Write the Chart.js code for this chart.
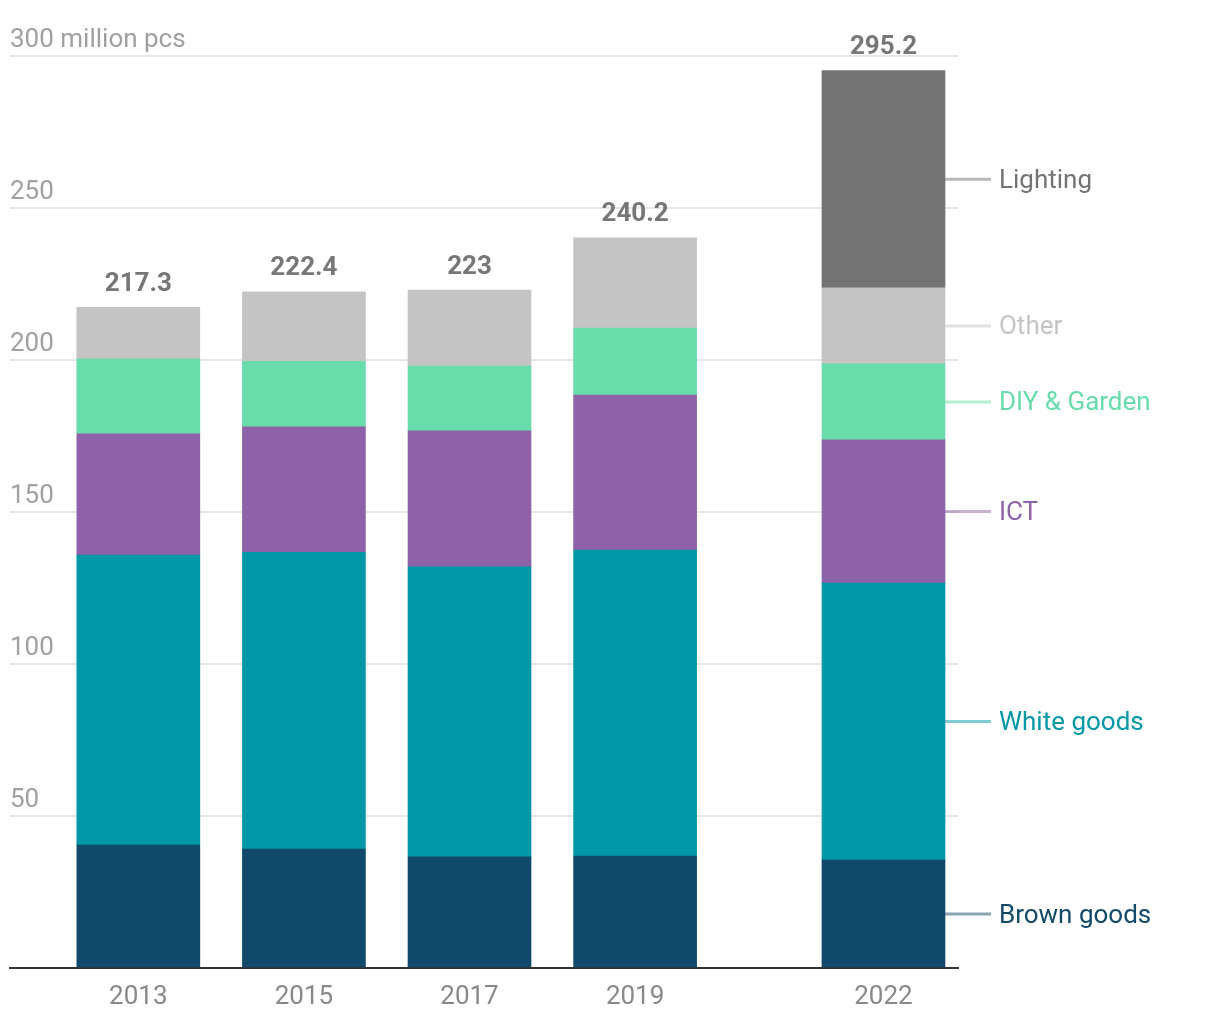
<!DOCTYPE html>
<html>
<head>
<meta charset="utf-8">
<script src="https://cdn.jsdelivr.net/npm/chart.js@4/dist/chart.umd.min.js"></script>
<style>
  html, body { margin: 0; padding: 0; background: #ffffff; }
  #wrap { width: 1220px; height: 1020px; }
</style>
</head>
<body>
<div id="wrap"><canvas id="c" width="1220" height="1020"></canvas></div>
<script>
// ---- data ----
const years = [2013, 2015, 2017, 2019, 2022];
const brownGoods = [40.4, 39.1, 36.6, 36.8, 35.5];
const whiteGoods = [95.4, 97.6, 95.4, 100.7, 91.1];
const ict        = [39.9, 41.3, 44.7, 51.0, 47.1];
const diyGarden  = [24.7, 21.6, 21.3, 22.0, 25.0];
const other      = [16.9, 22.8, 25.0, 29.7, 25.0];
const lighting   = [null, null, null, null, 71.5];
const seriesNames = ['Brown goods', 'White goods', 'ICT', 'DIY & Garden', 'Other', 'Lighting'];
const yTicks = [0, 50, 100, 150, 200, 250, 300];
const yUnit = 'million pcs';

// ---- styles ----
const colors = ['#11496b', '#0097a7', '#8d62a8', '#68dcaa', '#c4c4c4', '#737373'];
const FONT = 'Roboto, "Noto Sans", sans-serif';
const FS = 26;

const seriesData = [brownGoods, whiteGoods, ict, diyGarden, other, lighting];

const annotate = {
  id: 'annotate',
  afterDatasetsDraw(chart) {
    const { ctx, scales: { x, y } } = chart;
    ctx.save();
    // totals above bars
    ctx.font = 'bold ' + FS + 'px ' + FONT;
    ctx.fillStyle = '#777777';
    ctx.textAlign = 'center';
    ctx.textBaseline = 'middle';
    years.forEach((yr, i) => {
      const total = chart.data.datasets.reduce((s, d) => s + (d.data[i] || 0), 0);
      const t = Math.round(total * 10) / 10;
      ctx.fillText(String(t), x.getPixelForValue(yr), y.getPixelForValue(t) - 23);
    });
    // direct labels next to the last bar
    const last = years.length - 1;
    const el = chart.getDatasetMeta(0).data[last];
    const right = el.x + el.width / 2;
    let base = 0;
    ctx.font = FS + 'px ' + FONT;
    ctx.textAlign = 'left';
    chart.data.datasets.forEach((d, k) => {
      const v = d.data[last] || 0;
      const mid = base + v / 2;
      base += v;
      const py = y.getPixelForValue(mid);
      ctx.strokeStyle = colors[k] + '80';
      ctx.lineWidth = 3;
      ctx.beginPath();
      ctx.moveTo(right, py);
      ctx.lineTo(right + 46, py);
      ctx.stroke();
      ctx.fillStyle = colors[k];
      ctx.fillText(d.label, right + 54, py + 2);
    });
    ctx.restore();
  }
};

new Chart(document.getElementById('c').getContext('2d'), {
  type: 'bar',
  data: {
    labels: years,
    datasets: seriesData.map((arr, k) => ({
      label: seriesNames[k],
      data: arr,
      backgroundColor: colors[k],
      borderWidth: 0,
      barThickness: 123
    }))
  },
  options: {
    responsive: false,
    animation: false,
    layout: { padding: { left: 10, right: 262, top: 56, bottom: 0 } },
    plugins: { legend: { display: false }, tooltip: { enabled: false } },
    scales: {
      x: {
        type: 'linear',
        stacked: true,
        min: 2011.45,
        max: 2022.9,
        offset: false,
        grid: { display: false, drawTicks: false, offset: false },
        border: { display: true, color: '#333333', width: 2 },
        afterBuildTicks: (a) => { a.ticks = years.map(v => ({ value: v })); },
        afterFit: (a) => { a.height = 52; },
        ticks: {
          callback: (v) => String(v),
          color: '#888888',
          font: { family: FONT, size: FS },
          padding: 14,
          maxRotation: 0,
          autoSkip: false
        }
      },
      y: {
        stacked: true,
        min: 0,
        max: 300,
        afterBuildTicks: (a) => { a.ticks = yTicks.map(v => ({ value: v })); },
        afterFit: (a) => { a.width = 0; },
        grid: { color: '#e6e6e6', lineWidth: 2, drawTicks: false },
        border: { display: false },
        ticks: {
          mirror: true,
          padding: 0,
          labelOffset: -16,
          color: '#a0a0a0',
          font: { family: FONT, size: FS },
          callback: (v) => v === 0 ? '' : (v === 300 ? v + ' ' + yUnit : String(v))
        }
      }
    }
  },
  plugins: [annotate]
});
</script>
</body>
</html>
